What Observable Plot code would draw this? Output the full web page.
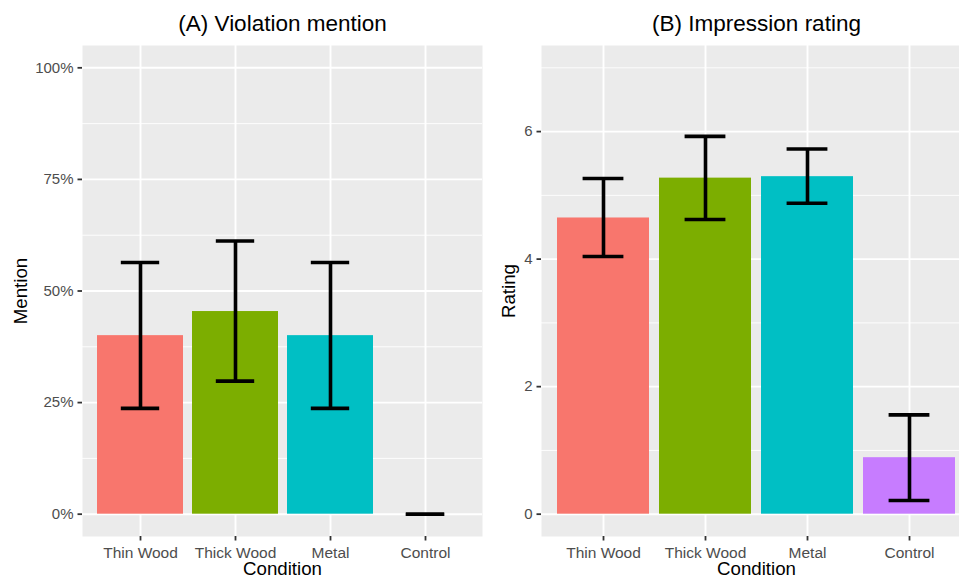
<!DOCTYPE html>
<html><head><meta charset="utf-8">
<script src="https://cdn.jsdelivr.net/npm/d3@7"></script>
<script src="https://cdn.jsdelivr.net/npm/@observablehq/plot@0.6"></script>
<style>
html,body{margin:0;padding:0;background:#fff;overflow:hidden;}
#wrap{position:relative;width:959px;height:580px;overflow:hidden;background:#fff;}
#wrap > svg{position:absolute;top:0;margin:0;}
</style></head><body><div id="wrap"></div>
<script>
const conditions = ["Thin Wood", "Thick Wood", "Metal", "Control"];
const barColors = ["#F8766D", "#7CAE00", "#00BFC4", "#C77CFF"];

// (A) Violation mention (proportion)
const mention   = [0.400, 0.454, 0.400, 0.000];
const mentionLo = [0.237, 0.298, 0.237, 0.000];
const mentionHi = [0.564, 0.612, 0.564, 0.000];
const mentionTicks = [0, 0.25, 0.5, 0.75, 1];
const mentionMinor = [0.125, 0.375, 0.625, 0.875];
const mentionTickLabels = ["0%", "25%", "50%", "75%", "100%"];

// (B) Impression rating
const rating   = [4.645, 5.27, 5.293, 0.886];
const ratingLo = [4.042, 4.621, 4.876, 0.214];
const ratingHi = [5.264, 5.925, 5.728, 1.558];
const ratingTicks = [0, 2, 4, 6];
const ratingMinor = [1, 3, 5, 7];
const ratingTickLabels = ["0", "2", "4", "6"];

const FONT = "'Liberation Sans', Arial, Helvetica, sans-serif";

function panel(o) {
  const data = conditions.map((c, i) => ({cond: c, v: o.values[i], lo: o.lo[i], hi: o.hi[i]}));
  const step = (o.width - o.marginLeft) / 4.2;
  const inset = 0.25 * step;
  const fmt = new Map(o.ticks.map((t, i) => [t, o.tickLabels[i]]));
  const svg = Plot.plot({
    width: o.width,
    height: 580,
    marginTop: 45,
    marginBottom: 44,
    marginLeft: o.marginLeft,
    marginRight: 0,
    style: {fontFamily: FONT, fontSize: "15px", background: "transparent", overflow: "visible"},
    x: {domain: conditions, paddingInner: 0.1, paddingOuter: 0.15, label: null},
    y: {domain: o.yDomain, label: null},
    color: {domain: conditions, range: barColors},
    marks: [
      Plot.frame({fill: "#EBEBEB", stroke: null}),
      Plot.gridY(o.minor, {stroke: "white", strokeOpacity: 1, strokeWidth: 0.9}),
      Plot.gridY(o.ticks, {stroke: "white", strokeOpacity: 1, strokeWidth: 1.9}),
      Plot.gridX({stroke: "white", strokeOpacity: 1, strokeWidth: 1.9}),
      Plot.barY(data, {x: "cond", y: "v", fill: "cond"}),
      Plot.ruleX(data, {x: "cond", y1: "lo", y2: "hi", stroke: "black", strokeWidth: 3.6}),
      Plot.tickY(data, {x: "cond", y: "lo", stroke: "black", strokeWidth: 3.6, insetLeft: inset, insetRight: inset}),
      Plot.tickY(data, {x: "cond", y: "hi", stroke: "black", strokeWidth: 3.6, insetLeft: inset, insetRight: inset}),
      Plot.axisY({ticks: o.ticks, tickFormat: d => fmt.get(d), tickSize: 4.5, tickPadding: 4.5, label: null,
                  stroke: "#333333", fill: "#4D4D4D", strokeWidth: 1.8, fontSize: 15}),
      Plot.axisX({tickSize: 4.5, tickPadding: 5.5, label: null,
                  stroke: "#333333", fill: "#4D4D4D", strokeWidth: 1.8, fontSize: 15.5}),
      Plot.text([o.title], {text: d => d, frameAnchor: "top", lineAnchor: "middle", textAnchor: "middle", dy: -22, fontSize: 22.5, fill: "black"}),
      Plot.text(["Condition"], {text: d => d, frameAnchor: "bottom", lineAnchor: "middle", textAnchor: "middle", dy: 32.5, fontSize: 18.7, fill: "black"}),
      Plot.text([o.ylabel], {text: d => d, frameAnchor: "left", lineAnchor: "middle", textAnchor: "middle", dx: o.labelDx, rotate: -90, fontSize: 18.7, fill: "black"})
    ]
  });
  svg.style.left = o.left + "px";
  return svg;
}

const wrap = document.getElementById("wrap");
wrap.appendChild(panel({
  values: mention, lo: mentionLo, hi: mentionHi,
  left: 0, width: 482, marginLeft: 82,
  yDomain: [-0.05, 1.05], ticks: mentionTicks, minor: mentionMinor, tickLabels: mentionTickLabels,
  title: "(A) Violation mention", ylabel: "Mention", labelDx: -61.5
}));
wrap.appendChild(panel({
  values: rating, lo: ratingLo, hi: ratingHi,
  left: 482, width: 489, marginLeft: 59,
  yDomain: [-0.35, 7.35], ticks: ratingTicks, minor: ratingMinor, tickLabels: ratingTickLabels,
  title: "(B) Impression rating", ylabel: "Rating", labelDx: -32
}));
</script>
</body></html>
